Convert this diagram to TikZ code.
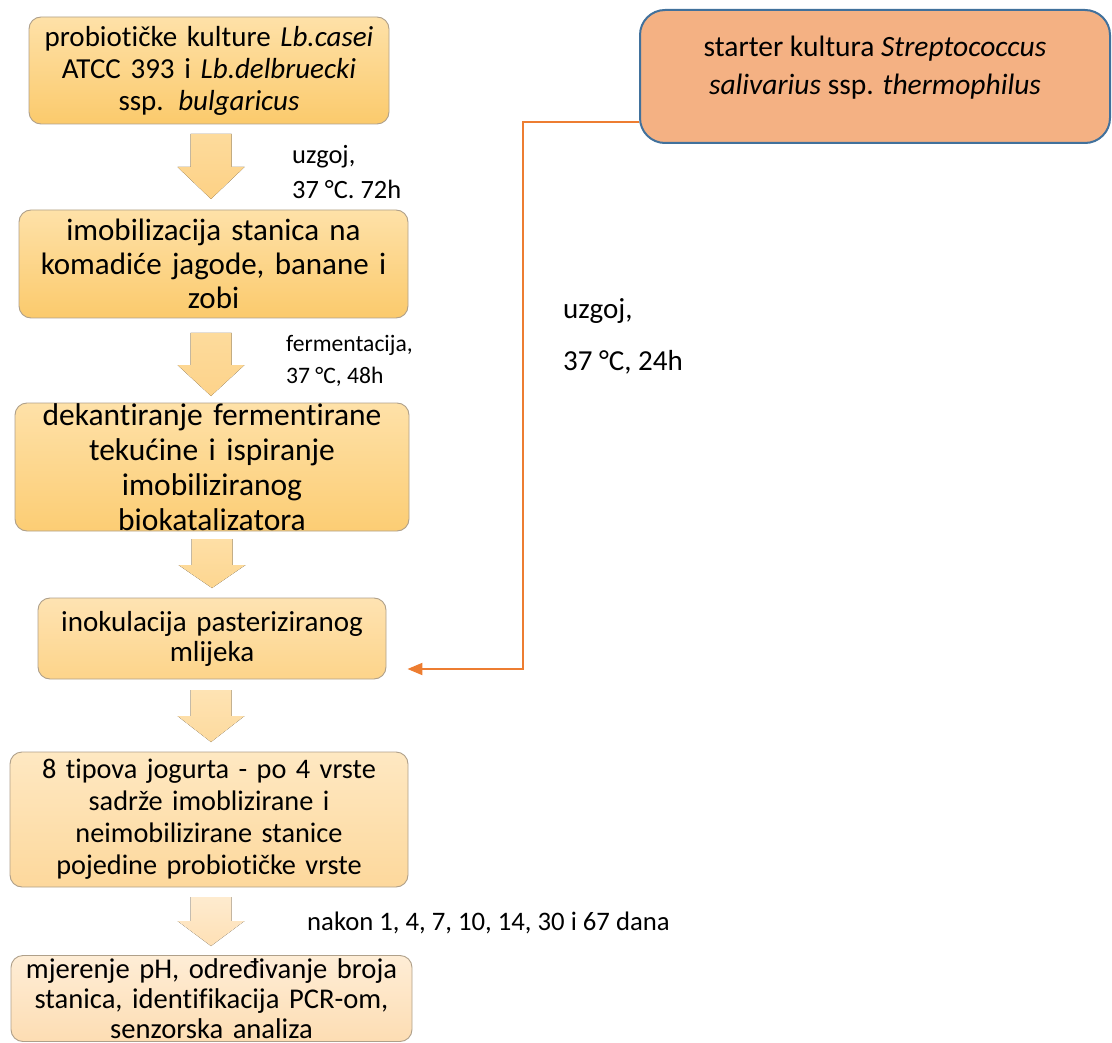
\documentclass[tikz,border=0pt]{standalone}
\usepackage{fontspec}
\setmainfont[Ligatures=CommonOff]{Carlito}
\usetikzlibrary{arrows.meta}
\definecolor{bord}{HTML}{AFA08A}
\definecolor{stfill}{HTML}{F4B183}
\definecolor{stdraw}{HTML}{41719C}
\definecolor{orl}{HTML}{ED7D31}
\definecolor{bt1}{HTML}{FEE1A8}\definecolor{bb1}{HTML}{FBCA6C}
\definecolor{bb3}{HTML}{FCCD74}
\definecolor{bt4}{HTML}{FEE3B2}\definecolor{bb4}{HTML}{FDD48A}
\definecolor{bt5}{HTML}{FEE8C2}\definecolor{bb5}{HTML}{FDD89C}
\definecolor{bt6}{HTML}{FEEDD6}\definecolor{bb6}{HTML}{FDDDB3}
\definecolor{at1}{HTML}{FDDB9C}\definecolor{ab1}{HTML}{FDD185}
\definecolor{ab2}{HTML}{FDD38A}
\definecolor{at3}{HTML}{FEDFA6}\definecolor{ab3}{HTML}{FDD690}
\definecolor{at4}{HTML}{FEE3B3}\definecolor{ab4}{HTML}{FDDA9E}
\definecolor{at5}{HTML}{FEEBCF}\definecolor{ab5}{HTML}{FEE0B5}
\newcommand{\blockarr}[6]{%
  \fill[top color=#5, bottom color=#6] ({#1-20.5},#2) -- ({#1+20.5},#2) -- ({#1+20.5},#3) -- ({#1+33.5},#3) -- (#1,#4) -- ({#1-33.5},#3) -- ({#1-20.5},#3) -- cycle;}
\tikzset{
  flowbox/.style={draw=bord, line width=0.9pt, rounded corners=12pt, align=center, inner sep=0pt},
  lbl/.style={anchor=west, align=left, inner sep=0pt}
}
\begin{document}
\begin{tikzpicture}[x=1pt,y=-1pt]
\useasboundingbox (0,0) rectangle (1112,1043);
% boxes
\node[flowbox, top color=bt1, bottom color=bb1, minimum width=360pt, minimum height=107pt, text width=360pt,
  font=\fontsize{29}{32}\selectfont] (b1) at (209,70.5)
  {probiotičke kulture \textit{Lb.casei}\\ ATCC 393 i \textit{Lb.delbruecki}\\ ssp. \textit{bulgaricus}};
\node[flowbox, top color=bt1, bottom color=bb1, minimum width=389pt, minimum height=108pt, text width=389pt,
  font=\fontsize{31}{34}\selectfont] (b2) at (213.5,264)
  {imobilizacija stanica na\\ komadiće jagode, banane i\\ zobi};
\node[flowbox, top color=bt1, bottom color=bb3, minimum width=394pt, minimum height=128pt, text width=394pt,
  font=\fontsize{31.5}{35}\selectfont] (b3) at (212,467)
  {dekantiranje fermentirane\\ tekućine i ispiranje\\ imobiliziranog\\ biokatalizatora};
\node[flowbox, top color=bt4, bottom color=bb4, minimum width=348pt, minimum height=81pt, text width=348pt,
  font=\fontsize{29}{30}\selectfont] (b4) at (212,638.5)
  {inokulacija pasteriziranog\\ mlijeka};
\node[flowbox, top color=bt5, bottom color=bb5, minimum width=398pt, minimum height=135pt, text width=398pt,
  font=\fontsize{28.3}{32}\selectfont] (b5) at (209,819.5)
  {8 tipova jogurta - po 4 vrste\\ sadrže imoblizirane i\\ neimobilizirane stanice\\ pojedine probiotičke vrste};
\node[flowbox, top color=bt6, bottom color=bb6, minimum width=401pt, minimum height=86pt, text width=401pt,
  font=\fontsize{28.6}{30}\selectfont] (b6) at (211.5,998.5)
  {mjerenje pH, određivanje broja\\ stanica, identifikacija PCR-om,\\ senzorska analiza};
% right box
\node[draw=stdraw, fill=stfill, line width=2pt, rounded corners=25pt, minimum width=470pt, minimum height=133pt] (st) at (875,76.5) {};
\node[align=center, inner sep=0pt, font=\fontsize{29.5}{38}\selectfont] (stt) at ([yshift=8.5pt]st.center)
  {starter kultura \textit{Streptococcus}\\ \textit{salivarius} ssp. \textit{thermophilus}};
% block arrows
\blockarr{211}{134}{167}{199}{at1}{ab1}
\blockarr{211}{333}{365}{396}{at1}{ab2}
\blockarr{212}{539}{565}{588}{at3}{ab3}
\blockarr{211}{690}{716}{742}{at4}{ab4}
\blockarr{211}{897}{921}{946}{at5}{ab5}
% labels
\node[lbl, font=\fontsize{26.4}{35}\selectfont] (l1) at (292,172.5) {uzgoj,\\ 37 °C. 72h};
\node[lbl, font=\fontsize{23.6}{32}\selectfont] (l2) at (286,361) {fermentacija,\\ 37 °C, 48h};
\node[lbl, font=\fontsize{29}{52}\selectfont] (l3) at (563,336) {uzgoj,\\ 37 °C, 24h};
\node[lbl, font=\fontsize{26.7}{30}\selectfont] (l4) at (307,923) {nakon 1, 4, 7, 10, 14, 30 i 67 dana};
% orange connector
\coordinate (ostart) at ([yshift=-45.5pt]st.west);
\coordinate (oend) at ([xshift=21pt,yshift=-30.5pt]b4.east);
\draw[orl, line width=2pt, -{Triangle[length=15pt,width=12pt]}] (ostart) -- (523,122) |- (oend);
\end{tikzpicture}
\end{document}
